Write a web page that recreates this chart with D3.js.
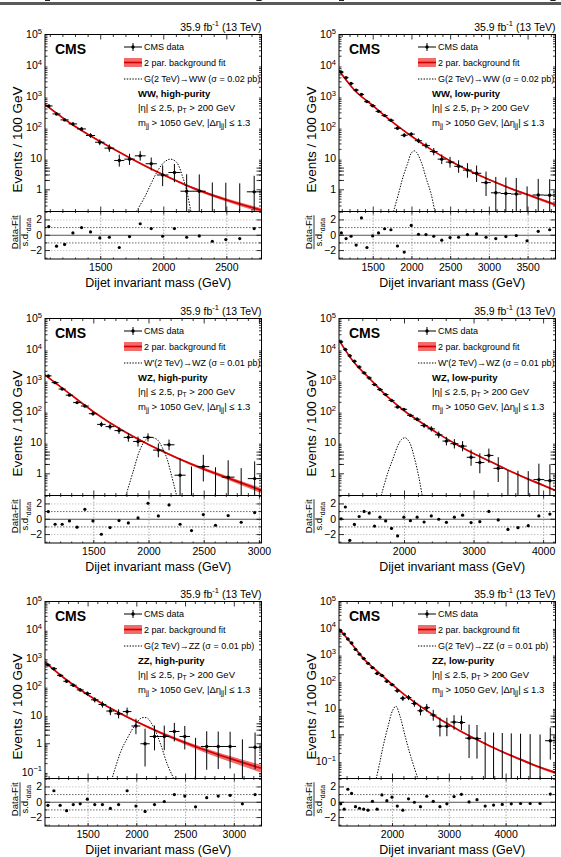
<!DOCTYPE html>
<html>
<head>
<meta charset="utf-8">
<script src="https://d3js.org/d3.v7.min.js"></script>
<style>
  body { margin: 0; background: #fff; }
  svg text { font-family: "Liberation Sans", Arial, Helvetica, sans-serif; fill: #000; }
</style>
</head>
<body>
<svg width="561" height="857"></svg>
<script>
// dijet mass bin edges (GeV), shared by all categories
var binEdges = [1058, 1118, 1181, 1246, 1313, 1383, 1455, 1530, 1607, 1687, 1770, 1856, 1945, 2037,
  2132, 2231, 2332, 2438, 2546, 2659, 2775, 2895, 3019, 3147, 3279, 3416, 3558, 3704, 3854, 4010,
  4171, 4337, 4509, 4686, 4869];

// WW high-purity
var wwHpVals = [500, 277, 178, 132, 91, 56, 34, 22, 8.8, 9.7, 12.4, 6.9, 3.0, 3.6, 0.9, 0.9, 0, 0, 0, 0.86];
var wwHpPulls = [1.13, -1.43, -1.2, 0.3, 1.0, 0.43, -0.35, -0.26, -1.6, -0.17, 1.5, 0.87, -0.13, 0.87, -0.26, -0.09, -0.78, -0.57, -0.43, 0.87];
var wwHpFitM = [1058, 1250, 1500, 1750, 2000, 2250, 2500, 2775];
var wwHpFitV = [560, 147, 35, 9.7, 3.0, 1.07, 0.47, 0.22];
var wwHpFitErr = [0.05, 0.03, 0.03, 0.04, 0.06, 0.09, 0.12, 0.16];
var wwHpSigM = [1783, 1850, 1900, 1950, 2000, 2050, 2100, 2150, 2185, 2215];
var wwHpSigV = [0.2, 0.6, 1.6, 4.0, 7.5, 9.7, 7.8, 2.6, 0.8, 0.2];

// WW low-purity
var wwLpVals = [6150, 4070, 2650, 1620, 1180, 690, 510, 336, 245, 174, 96, 57, 62, 38, 26.5, 17, 9.7, 7.8, 5.7, 4.3, 3.4, 1.7, 0.8, 0.76, 0.73, 0, 0.68, 0.67];
var wwLpPulls = [0.3, -0.43, -0.13, -1.28, 2.26, -1.6, -0.09, 0.3, 0.85, 0.72, -1.4, -2.2, 1.28, 0.13, 0.09, -0.13, -0.64, -0.3, -0.26, 0.09, 0.17, -0.26, -0.43, -0.17, -0.04, -0.72, 0.51, 0.72];
var wwLpFitM = [1058, 1250, 1500, 1750, 2000, 2250, 2500, 2750, 3000, 3250, 3500, 3854];
var wwLpFitV = [6900, 1700, 500, 151, 52, 19.6, 8.3, 4.0, 2.1, 1.17, 0.69, 0.33];
var wwLpFitErr = [0.03, 0.02, 0.02, 0.02, 0.03, 0.03, 0.04, 0.05, 0.06, 0.07, 0.08, 0.1];
var wwLpSigM = [1762, 1830, 1885, 1950, 1990, 2030, 2060, 2120, 2185, 2250, 2295];
var wwLpSigV = [0.2, 0.8, 2.6, 7.8, 15, 18, 16, 7.8, 2.3, 0.7, 0.2];

// WZ high-purity
var wzHpVals = [1420, 860, 535, 340, 196, 152, 86, 39, 33, 24.6, 14.9, 11, 14.9, 5.8, 8.6, 0.9, 0, 1.7, 0, 0.78, 0, 0.7];
var wzHpPulls = [1.0, -0.65, -0.65, -0.22, -1.04, 1.3, -0.22, -1.96, -1.09, -0.17, -0.48, 0.17, 2.09, 0.43, 1.87, -0.65, -1.48, 0.61, -0.78, 0.48, -0.39, 0.87];
var wzHpFitM = [1058, 1250, 1500, 1750, 2000, 2250, 2500, 2750, 3019];
var wzHpFitV = [1520, 460, 98, 26, 8.6, 3.3, 1.4, 0.66, 0.29];
var wzHpFitErr = [0.05, 0.03, 0.03, 0.04, 0.06, 0.08, 0.11, 0.14, 0.18];
var wzHpSigM = [1791, 1857, 1917, 1962, 2000, 2040, 2080, 2120, 2160, 2205, 2250];
var wzHpSigV = [0.2, 1.2, 5.8, 11.5, 14.5, 14.5, 12, 7, 3.3, 0.85, 0.2];

// WZ low-purity
var wzLpVals = [17700, 10000, 6300, 4200, 2750, 1770, 1220, 745, 515, 355, 230, 141, 119, 76, 57, 36, 28, 18, 11.3, 9.3, 7.8, 3.4, 2.3, 3.9, 1.5, 0, 0, 0, 0.65, 0.6];
var wzLpPulls = [0.05, 1.6, -2.75, -0.67, 0.36, 1.02, 0.8, -0.89, 0.27, -0.22, -1.2, -2.18, 0.27, -0.18, 0.27, -0.36, 0.44, 0, -0.4, 0.27, 0.53, -0.44, -0.31, 1.02, -0.09, -1.33, -1.1, -0.84, 0.44, 0.67];
var wzLpFitM = [1058, 1250, 1500, 1750, 2000, 2250, 2500, 2750, 3000, 3250, 3500, 3750, 4000, 4171];
var wzLpFitV = [20000, 4500, 1150, 310, 105, 43, 18.6, 8.8, 4.4, 2.4, 1.28, 0.72, 0.42, 0.29];
var wzLpFitErr = [0.02, 0.02, 0.02, 0.02, 0.02, 0.03, 0.03, 0.04, 0.04, 0.05, 0.06, 0.07, 0.08, 0.08];
var wzLpSigM = [1665, 1761, 1833, 1905, 1953, 2010, 2070, 2140, 2205, 2254];
var wzLpSigV = [0.2, 1.1, 3.0, 8.2, 12.5, 14.5, 10.5, 3.4, 0.8, 0.2];

// ZZ high-purity
var zzHpVals = [590, 433, 254, 157, 114, 78, 58, 35, 24, 14.1, 11.3, 13.5, 4.2, 1.0, 1.8, 1.8, 2.7, 1.8, 0, 0.8, 0.8, 0.8, 0, 0.75];
var zzHpPulls = [-0.4, 1.5, -0.4, -1.1, -0.3, -0.2, 0.4, -0.3, -0.3, -0.8, -0.3, 1.5, -0.5, -1.2, -0.3, 0.1, 1.0, 0.8, -0.6, 0.6, 0.8, 0.9, -0.2, 1.0];
var zzHpFitM = [1058, 1250, 1500, 1750, 2000, 2250, 2500, 2750, 3000, 3279];
var zzHpFitV = [740, 209, 52, 16.2, 5.9, 2.4, 1.08, 0.52, 0.27, 0.137];
var zzHpFitErr = [0.06, 0.04, 0.04, 0.05, 0.07, 0.1, 0.14, 0.19, 0.24, 0.3];
var zzHpSigM = [1743, 1836, 1904, 1973, 2041, 2080, 2110, 2178, 2247, 2315, 2384];
var zzHpSigV = [0.055, 0.54, 1.6, 4.1, 7.9, 8.3, 7.9, 3.5, 0.9, 0.18, 0.055];

// ZZ low-purity
var zzLpVals = [8000, 6000, 3900, 2760, 1600, 1060, 725, 480, 330, 200, 167, 102, 76, 45, 23.5, 25, 15, 8, 10.4, 5.5, 2.1, 2.1, 3.0, 2.9, 0.75, 0.72, 0, 0, 0, 0, 0, 0, 0, 0.6];
var zzLpPulls = [-0.2, -0.9, 1.7, 1.15, -0.58, -0.78, -0.9, -1.03, 0.12, -0.9, 0.95, 0.2, 0.66, -0.5, -1.03, 0.45, 0, -0.58, 0.78, 0.12, -0.58, -0.2, 0.74, 1.03, 0.04, 0.33, -0.5, -0.37, -0.29, -0.2, -0.16, -0.16, -0.16, 1.07];
var zzLpFitM = [1058, 1250, 1500, 1750, 2000, 2250, 2500, 2750, 3000, 3250, 3500, 3750, 4000, 4250, 4500, 4869];
var zzLpFitV = [9500, 3100, 680, 224, 76, 27.5, 11.4, 5.0, 2.4, 1.2, 0.64, 0.35, 0.2, 0.12, 0.072, 0.038];
var zzLpFitErr = [0.03, 0.02, 0.02, 0.02, 0.02, 0.03, 0.03, 0.04, 0.04, 0.05, 0.06, 0.07, 0.08, 0.09, 0.1, 0.12];
var zzLpSigM = [1714, 1780, 1831, 1918, 2005, 2060, 2134, 2228, 2327, 2446];
var zzLpSigV = [0.023, 0.1, 0.34, 1.95, 8.5, 11.8, 4.8, 0.8, 0.14, 0.023];

var panels = [
  {col: 0, row: 0, xMax: 2775, yMin: 0.2, ticks: [1500, 2000, 2500], minor: 100,
   vals: wwHpVals, pulls: wwHpPulls, fitM: wwHpFitM, fitV: wwHpFitV, fitErr: wwHpFitErr, sigM: wwHpSigM, sigV: wwHpSigV,
   sig: "G(2 TeV)\u2192WW (\u03c3 = 0.02 pb)", cat: "WW, high-purity"},
  {col: 1, row: 0, xMax: 3854, yMin: 0.2, ticks: [1500, 2000, 2500, 3000, 3500], minor: 100,
   vals: wwLpVals, pulls: wwLpPulls, fitM: wwLpFitM, fitV: wwLpFitV, fitErr: wwLpFitErr, sigM: wwLpSigM, sigV: wwLpSigV,
   sig: "G(2 TeV)\u2192WW (\u03c3 = 0.02 pb)", cat: "WW, low-purity"},
  {col: 0, row: 1, xMax: 3019, yMin: 0.2, ticks: [1500, 2000, 2500, 3000], minor: 100,
   vals: wzHpVals, pulls: wzHpPulls, fitM: wzHpFitM, fitV: wzHpFitV, fitErr: wzHpFitErr, sigM: wzHpSigM, sigV: wzHpSigV,
   sig: "W'(2 TeV)\u2192WZ (\u03c3 = 0.01 pb)", cat: "WZ, high-purity"},
  {col: 1, row: 1, xMax: 4171, yMin: 0.2, ticks: [2000, 3000, 4000], minor: 200,
   vals: wzLpVals, pulls: wzLpPulls, fitM: wzLpFitM, fitV: wzLpFitV, fitErr: wzLpFitErr, sigM: wzLpSigM, sigV: wzLpSigV,
   sig: "W'(2 TeV)\u2192WZ (\u03c3 = 0.01 pb)", cat: "WZ, low-purity"},
  {col: 0, row: 2, xMax: 3279, yMin: 0.06, ticks: [1500, 2000, 2500, 3000], minor: 100,
   vals: zzHpVals, pulls: zzHpPulls, fitM: zzHpFitM, fitV: zzHpFitV, fitErr: zzHpFitErr, sigM: zzHpSigM, sigV: zzHpSigV,
   sig: "G(2 TeV)\u2192ZZ (\u03c3 = 0.01 pb)", cat: "ZZ, high-purity"},
  {col: 1, row: 2, xMax: 4869, yMin: 0.023, ticks: [2000, 3000, 4000], minor: 200,
   vals: zzLpVals, pulls: zzLpPulls, fitM: zzLpFitM, fitV: zzLpFitV, fitErr: zzLpFitErr, sigM: zzLpSigM, sigV: zzLpSigV,
   sig: "G(2 TeV)\u2192ZZ (\u03c3 = 0.01 pb)", cat: "ZZ, low-purity"}
];

var colLeft = [45, 339];
var rowTop = [34.5, 318.5, 601.5];
var plotW = 216.5, mainH = 177, ratioH = 47.5;

var svg = d3.select("svg");
svg.append("rect").attr("x", 0).attr("y", 2).attr("width", 561).attr("height", 3).attr("fill", "#5a5a5a");

// text with sub/superscript pieces
function rich(g, x, y, parts, size, anchor, weight) {
  var t = g.append("text").attr("x", x).attr("y", y).attr("font-size", size)
    .attr("text-anchor", anchor || "start").attr("font-weight", weight || "normal");
  var shift = 0;
  parts.forEach(function(p) {
    var s = t.append("tspan").text(p[0]);
    var want = p[1] == "sub" ? size * 0.3 : (p[1] == "sup" ? -size * 0.4 : 0);
    if (want != shift) s.attr("dy", want - shift);
    if (p[1]) s.attr("font-size", size * 0.72);
    shift = want;
  });
  return t;
}

// approximate Garwood interval for a count
function poissonLo(n) { if (n <= 0) return 0; return n * Math.pow(1 - 1 / (9 * n) - 1 / (3 * Math.sqrt(n)), 3); }
function poissonHi(n) { var m = n + 1; return m * Math.pow(1 - 1 / (9 * m) + 1 / (3 * Math.sqrt(m)), 3); }

panels.forEach(function(p, pi) {
  var L = colLeft[p.col], T = rowTop[p.row], R = L + plotW, B = T + mainH, RB = B + ratioH;
  var g = svg.append("g");

  var x = d3.scaleLinear().domain([binEdges[0], p.xMax]).range([L, R]);
  var y = d3.scaleLog().domain([p.yMin, 1e5]).range([B, T]);
  var yr = d3.scaleLinear().domain([-3.1, 3.1]).range([RB, B]);

  var clipId = "clip" + pi;
  svg.append("clipPath").attr("id", clipId).append("rect")
    .attr("x", L).attr("y", T).attr("width", plotW).attr("height", mainH);
  var plot = g.append("g").attr("clip-path", "url(#" + clipId + ")");

  // fit band and line
  var fit = p.fitM.map(function(m, i) { return {m: m, v: p.fitV[i], e: p.fitErr[i]}; });
  var band = d3.area().curve(d3.curveMonotoneX)
    .x(function(d) { return x(d.m); })
    .y0(function(d) { return y(d.v * (1 - d.e)); })
    .y1(function(d) { return y(d.v * (1 + d.e)); });
  plot.append("path").datum(fit).attr("d", band).attr("fill", "#f36a6a").attr("stroke", "none");
  var fitLine = d3.line().curve(d3.curveMonotoneX)
    .x(function(d) { return x(d.m); }).y(function(d) { return y(d.v); });
  plot.append("path").datum(fit).attr("d", fitLine).attr("fill", "none")
    .attr("stroke", "#d40000").attr("stroke-width", 1.7);

  // signal shape
  var sig = p.sigM.map(function(m, i) { return {m: m, v: p.sigV[i]}; });
  plot.append("path").datum(sig)
    .attr("d", d3.line().curve(d3.curveCatmullRom.alpha(0.5))
      .x(function(d) { return x(d.m); }).y(function(d) { return y(d.v); }))
    .attr("fill", "none").attr("stroke", "#000").attr("stroke-width", 1).attr("stroke-dasharray", "1.4,1.4");

  // data points with poisson bars
  var pts = p.vals.map(function(v, i) {
    var w = binEdges[i + 1] - binEdges[i], n = v * w / 100;
    return {lo: binEdges[i], hi: binEdges[i + 1], c: (binEdges[i] + binEdges[i + 1]) / 2, v: v,
      eLo: poissonLo(n) * 100 / w, eHi: poissonHi(n) * 100 / w};
  });
  var dg = plot.append("g").attr("stroke", "#000").attr("stroke-width", 1);
  pts.forEach(function(d) {
    var yl = d.eLo > 0 ? y(d.eLo) : B + 5;
    dg.append("line").attr("x1", x(d.c)).attr("x2", x(d.c)).attr("y1", yl).attr("y2", y(d.eHi));
    if (d.v > 0) {
      dg.append("line").attr("x1", x(d.lo)).attr("x2", x(d.hi)).attr("y1", y(d.v)).attr("y2", y(d.v));
      dg.append("circle").attr("cx", x(d.c)).attr("cy", y(d.v)).attr("r", 1.7).attr("fill", "#000").attr("stroke", "none");
    }
  });

  // ratio panel grid
  var rg = g.append("g");
  [-2, 2].forEach(function(v) {
    rg.append("line").attr("x1", L).attr("x2", R).attr("y1", yr(v)).attr("y2", yr(v))
      .attr("stroke", "#bbb").attr("stroke-width", 0.8).attr("stroke-dasharray", "1.5,1.5");
  });
  [-1, 1].forEach(function(v) {
    rg.append("line").attr("x1", L).attr("x2", R).attr("y1", yr(v)).attr("y2", yr(v))
      .attr("stroke", "#444").attr("stroke-width", 0.8).attr("stroke-dasharray", "1.5,1.5");
  });
  rg.append("line").attr("x1", L).attr("x2", R).attr("y1", yr(0)).attr("y2", yr(0))
    .attr("stroke", "#555").attr("stroke-width", 1);
  p.ticks.forEach(function(t) {
    rg.append("line").attr("x1", x(t)).attr("x2", x(t)).attr("y1", B).attr("y2", RB)
      .attr("stroke", "#999").attr("stroke-width", 0.8).attr("stroke-dasharray", "1.5,1.5");
  });
  p.pulls.forEach(function(v, i) {
    rg.append("circle").attr("cx", x(pts[i].c)).attr("cy", yr(v)).attr("r", 1.6).attr("fill", "#000");
  });

  // axes with inward ticks on all sides
  var minorX = d3.range(Math.ceil(binEdges[0] / p.minor) * p.minor, p.xMax, p.minor)
    .filter(function(v) { return p.ticks.indexOf(v) < 0; });
  function xTicks(yy, dir, len, vals) {
    vals.forEach(function(v) {
      g.append("line").attr("x1", x(v)).attr("x2", x(v)).attr("y1", yy).attr("y2", yy + dir * len)
        .attr("stroke", "#000").attr("stroke-width", 0.8);
    });
  }
  xTicks(T, 1, 5, p.ticks); xTicks(T, 1, 2.5, minorX);
  xTicks(B, -1, 5, p.ticks); xTicks(B, -1, 2.5, minorX);
  xTicks(B, 1, 3, p.ticks); xTicks(B, 1, 1.5, minorX);
  xTicks(RB, -1, 3, p.ticks); xTicks(RB, -1, 1.5, minorX);

  var decades = d3.range(Math.ceil(Math.log10(p.yMin)), 6);
  var minorY = [];
  d3.range(Math.floor(Math.log10(p.yMin)), 5).forEach(function(k) {
    for (var j = 2; j <= 9; j++) { var v = j * Math.pow(10, k); if (v > p.yMin) minorY.push(v); }
  });
  function yTicks(xx, dir, len, vals, sc) {
    vals.forEach(function(v) {
      g.append("line").attr("x1", xx).attr("x2", xx + dir * len).attr("y1", sc(v)).attr("y2", sc(v))
        .attr("stroke", "#000").attr("stroke-width", 0.8);
    });
  }
  yTicks(L, 1, 5, decades, y); yTicks(L, 1, 2.5, minorY, y);
  yTicks(R, -1, 5, decades, y); yTicks(R, -1, 2.5, minorY, y);
  yTicks(L, 1, 5, [-2, 0, 2], yr); yTicks(L, 1, 2.5, [-3, -1, 1, 3], yr);
  yTicks(R, -1, 5, [-2, 0, 2], yr); yTicks(R, -1, 2.5, [-3, -1, 1, 3], yr);

  // frames
  g.append("rect").attr("x", L).attr("y", T).attr("width", plotW).attr("height", mainH)
    .attr("fill", "none").attr("stroke", "#000").attr("stroke-width", 1);
  g.append("rect").attr("x", L).attr("y", B).attr("width", plotW).attr("height", ratioH)
    .attr("fill", "none").attr("stroke", "#000").attr("stroke-width", 1);

  // tick labels
  decades.forEach(function(k) {
    var parts = k == 0 ? [["1"]] : (k == 1 ? [["10"]] : [["10"], [k < 0 ? "\u2212" + (-k) : String(k), "sup"]]);
    rich(g, L - 3, y(Math.pow(10, k)) + 3.5, parts, 10.5, "end");
  });
  [2, 0, -2].forEach(function(v) {
    g.append("text").attr("x", L - 3).attr("y", yr(v) + 3.5).attr("text-anchor", "end")
      .attr("font-size", 10.5).text(v < 0 ? "\u2212" + (-v) : v);
  });
  p.ticks.forEach(function(t) {
    g.append("text").attr("x", x(t)).attr("y", RB + 11.5).attr("text-anchor", "middle")
      .attr("font-size", 10.5).text(t);
  });

  // axis titles
  g.append("text").attr("x", (L + R) / 2 + 5).attr("y", RB + 27.5).attr("text-anchor", "middle")
    .attr("font-size", 12.5).text("Dijet invariant mass (GeV)");
  g.append("text").attr("transform", "translate(" + (L - 23) + "," + (T + 105) + ") rotate(-90)")
    .attr("text-anchor", "middle").attr("font-size", 13.5).text("Events / 100 GeV");
  var rt = g.append("g").attr("transform", "translate(" + (L - 25) + "," + (B + ratioH / 2 - 3) + ") rotate(-90)");
  rt.append("text").attr("x", 0).attr("y", -2.5).attr("text-anchor", "middle").attr("font-size", 9.5).text("Data-Fit");
  rt.append("line").attr("x1", -17).attr("x2", 17).attr("y1", 0).attr("y2", 0).attr("stroke", "#000").attr("stroke-width", 0.8);
  rich(rt, 0, 8, [["s.d."], ["data", "sub"]], 9.5, "middle");

  // header
  rich(g, R, T - 4, [["35.9 fb"], ["-1", "sup"], [" (13 TeV)"]], 10.5, "end");
  g.append("text").attr("x", L + 10).attr("y", T + 19.5).attr("font-size", 14).attr("font-weight", "bold").text("CMS");

  // legend
  var lx = L + 79, tx = L + 99;
  var ly1 = T + 12.5, ly2 = T + 28, ly3 = T + 44.5;
  g.append("line").attr("x1", lx).attr("x2", lx + 18).attr("y1", ly1).attr("y2", ly1).attr("stroke", "#000");
  g.append("line").attr("x1", lx + 9).attr("x2", lx + 9).attr("y1", ly1 - 4).attr("y2", ly1 + 4).attr("stroke", "#000");
  g.append("circle").attr("cx", lx + 9).attr("cy", ly1).attr("r", 1.7).attr("fill", "#000");
  g.append("text").attr("x", tx).attr("y", ly1 + 3.2).attr("font-size", 9).text("CMS data");
  g.append("rect").attr("x", lx).attr("y", ly2 - 4.5).attr("width", 18).attr("height", 9).attr("fill", "#f36a6a");
  g.append("line").attr("x1", lx).attr("x2", lx + 18).attr("y1", ly2).attr("y2", ly2).attr("stroke", "#d40000").attr("stroke-width", 1.7);
  g.append("text").attr("x", tx).attr("y", ly2 + 3.2).attr("font-size", 9).text("2 par. background fit");
  g.append("line").attr("x1", lx).attr("x2", lx + 18).attr("y1", ly3).attr("y2", ly3)
    .attr("stroke", "#000").attr("stroke-width", 1).attr("stroke-dasharray", "1.4,1.4");
  g.append("text").attr("x", tx).attr("y", ly3 + 3.2).attr("font-size", 9).text(p.sig);
  g.append("text").attr("x", L + 93).attr("y", T + 62).attr("font-size", 9.5).attr("font-weight", "bold").text(p.cat);
  rich(g, L + 93, T + 76, [["|\u03b7| \u2264 2.5, p"], ["T", "sub"], [" > 200 GeV"]], 9.5, "start");
  rich(g, L + 93, T + 91, [["m"], ["jj", "sub"], [" > 1050 GeV, |\u0394\u03b7"], ["jj", "sub"], ["| \u2264 1.3"]], 9.5, "start");
});
</script>
</body>
</html>
